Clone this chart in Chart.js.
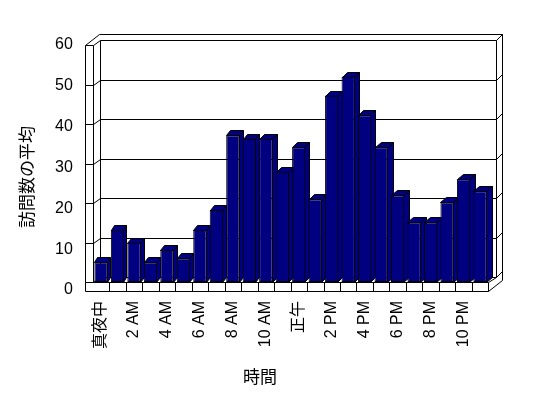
<!DOCTYPE html>
<html>
<head>
<meta charset="utf-8">
<script src="https://cdn.jsdelivr.net/npm/chart.js@4"></script>
<style>
html,body{margin:0;padding:0;background:#fff;}
canvas{display:block;}
</style>
</head>
<body>
<canvas id="c" width="548" height="398"></canvas>
<script>
const categories = ['真夜中','1 AM','2 AM','3 AM','4 AM','5 AM','6 AM','7 AM','8 AM','9 AM','10 AM','11 AM',
  '正午','1 PM','2 PM','3 PM','4 PM','5 PM','6 PM','7 PM','8 PM','9 PM','10 PM','11 PM'];
const visits = [5.0, 13.2, 10.0, 5.0, 8.1, 6.0, 13.2, 18.2, 37.1, 36.2, 36.2, 27.9,
  34.1, 20.9, 47.2, 52.0, 42.2, 34.1, 21.9, 15.1, 15.1, 20.2, 26.0, 23.0];
const yTickValues = [0, 10, 20, 30, 40, 50, 60];
const yTitle = '訪問数の平均';
const xTitle = '時間';

const LATIN = "'Liberation Sans', 'Noto Sans CJK JP', sans-serif";
const CJK = "'Noto Sans CJK JP', sans-serif";

const excel3d = {
  id: 'excel3d',
  beforeDatasetsDraw(chart) {
    const {ctx, chartArea: a, scales} = chart;
    const ys = scales.y, xs = scales.x;
    const X0 = a.left, X1 = a.right;
    const yF = v => ys.getPixelForValue(v);
    const DX = 7.3, DY = -4.7, TX = 6.6, TY = -6.3, WALL = 8.3, FLOOR = 9.3;
    const R = v => Math.round(v) + 0.5;
    const line = (pts) => {
      ctx.beginPath();
      ctx.moveTo(R(pts[0][0]), R(pts[0][1]));
      for (let i = 1; i < pts.length; i++) ctx.lineTo(R(pts[i][0]), R(pts[i][1]));
      ctx.stroke();
    };
    const top = yF(60), bot = yF(0);
    ctx.save();
    ctx.strokeStyle = '#000';
    ctx.lineWidth = 1;
    line([[X0 + DX, top + DY], [X0 + DX, bot + DY]]);
    line([[X1 + DX, top + DY], [X1 + DX, bot + DY]]);
    line([[X0 - WALL, top], [X0 + DX - 1.6, top + DY + TY], [X1 + DX + TX, top + DY + TY],
          [X1 + DX + TX, bot + FLOOR + DY + TY]]);
    yTickValues.forEach(v => {
      const y = yF(v);
      line([[X0 - WALL, y], [X0, y], [X0 + DX, y + DY], [X1 + DX, y + DY], [X1 + DX + TX, y + DY + TY]]);
    });
    line([[X0 - WALL, top], [X0 - WALL, bot + FLOOR]]);
    line([[X0, top], [X0, bot]]);
    line([[X0 - WALL, bot + FLOOR], [X1, bot + FLOOR], [X1, bot], [X0, bot]]);
    line([[X1, bot], [X1 + DX, bot + DY]]);
    line([[X1, bot + FLOOR], [X1 + DX + TX, bot + FLOOR + DY + TY]]);
    for (let k = 1; k < categories.length; k++) {
      const bx = (xs.getPixelForValue(k) + xs.getPixelForValue(k - 1)) / 2;
      line([[bx, bot], [bx, bot + FLOOR]]);
    }
    const meta = chart.getDatasetMeta(0);
    const n = meta.data.length;
    meta.data.forEach((el, i) => {
      const p = el.getProps(['x', 'y', 'base', 'width'], true);
      const l = Math.round(p.x - p.width / 2), r = Math.round(p.x + p.width / 2) - 1;
      const t = Math.round(p.y), b = Math.round(p.base);
      const dx = Math.round(3.3 + 3 * i / (n - 1)), dy = -5;
      ctx.fillStyle = '#000080';
      ctx.beginPath();
      ctx.moveTo(r + 0.5, t + 0.5);
      ctx.lineTo(r + dx + 0.5, t + dy + 0.5);
      ctx.lineTo(r + dx + 0.5, b + dy + 0.5);
      ctx.lineTo(r + 0.5, b + 0.5);
      ctx.closePath();
      ctx.fill(); ctx.stroke();
      ctx.beginPath();
      ctx.moveTo(l + 0.5, t + 0.5);
      ctx.lineTo(l + dx + 0.5, t + dy + 0.5);
      ctx.lineTo(r + dx + 0.5, t + dy + 0.5);
      ctx.lineTo(r + 0.5, t + 0.5);
      ctx.closePath();
      ctx.fill(); ctx.stroke();
    });
    ctx.restore();
  },
  afterDraw(chart) {
    const ctx = chart.ctx;
    ctx.save();
    ctx.fillStyle = '#000';
    ctx.font = '17px ' + CJK;
    ctx.textAlign = 'center';
    ctx.textBaseline = 'middle';
    ctx.fillText(xTitle, 260, 377);
    ctx.translate(27, 177);
    ctx.rotate(-Math.PI / 2);
    ctx.fillText(yTitle, 0, 0);
    ctx.restore();
  }
};

new Chart(document.getElementById('c'), {
  type: 'bar',
  data: {
    labels: categories,
    datasets: [{
      data: visits,
      backgroundColor: '#000080',
      borderColor: '#000000',
      borderWidth: 1,
      borderSkipped: false,
      categoryPercentage: 1.0,
      barPercentage: 0.81,
      xAxisID: 'x',
      yAxisID: 'y'
    }]
  },
  options: {
    responsive: false,
    animation: false,
    layout: {padding: {left: 0, top: 45, right: 59.7, bottom: 0}},
    plugins: {legend: {display: false}, tooltip: {enabled: false}},
    scales: {
      x: {
        type: 'category',
        offset: true,
        grid: {display: false, drawTicks: false},
        border: {display: false},
        afterFit: s => { s.height = 108; },
        ticks: {
          autoSkip: false,
          minRotation: 90,
          maxRotation: 90,
          padding: 11,
          color: '#000',
          font: {family: LATIN, size: 16},
          callback: function(v, i) { return i % 2 === 0 ? categories[i] : ''; }
        }
      },
      y: {
        display: false,
        min: -2.025,
        max: 60
      },
      yl: {
        position: 'left',
        min: 0,
        max: 60,
        grid: {display: false, drawTicks: false},
        border: {display: false},
        afterFit: s => { s.width = 92.8; },
        afterBuildTicks: s => { s.ticks = yTickValues.map(v => ({value: v})); },
        ticks: {
          padding: 20,
          color: '#000',
          font: {family: LATIN, size: 16}
        }
      }
    }
  },
  plugins: [excel3d]
});
</script>
</body>
</html>
